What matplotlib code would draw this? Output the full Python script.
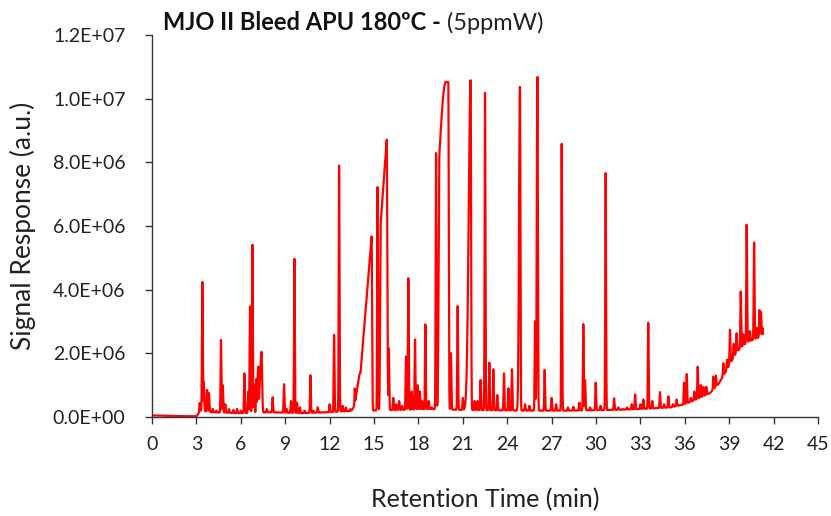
import numpy as np
import matplotlib
matplotlib.use("Agg")
import matplotlib.pyplot as plt

plt.rcParams['font.family'] = ['Lato', 'DejaVu Sans']

# Baseline drift of the run (min, a.u.)
base_rt = [0.0, 1.5, 3.0, 3.3, 4.0, 6.0, 8.0, 10.0, 12.0, 13.0, 16.5, 19.0, 21.0,
           25.0, 28.0, 31.0, 33.0, 35.0, 36.0, 37.0, 37.7, 38.3, 38.8, 39.5, 40.2, 41.3]
base_level = [0.05e6, 0.03e6, 0.02e6, 0.2e6, 0.15e6, 0.12e6, 0.15e6, 0.12e6, 0.15e6,
              0.18e6, 0.22e6, 0.25e6, 0.22e6, 0.2e6, 0.2e6, 0.22e6, 0.25e6, 0.3e6,
              0.4e6, 0.6e6, 0.75e6, 1.05e6, 1.45e6, 2.05e6, 2.35e6, 2.55e6]

# Peak table: retention time (min), apex response (a.u.)
peak_rt = [3.22, 3.40, 3.50, 3.72, 3.85, 4.10, 4.35, 4.66, 4.78, 4.95, 5.20, 5.50,
           5.75, 6.00, 6.24, 6.50, 6.62, 6.78, 6.90, 7.05, 7.18, 7.40, 7.75, 8.15,
           8.92, 9.10, 9.39, 9.62, 9.80, 10.00, 10.30, 10.70, 10.90, 11.20, 11.60,
           12.00, 12.30, 12.64, 12.88, 13.10, 13.40, 13.70, 14.84, 15.24, 15.86,
           16.00, 16.30, 16.50, 16.70, 16.90, 17.16, 17.32, 17.55, 17.77, 17.95,
           18.10, 18.25, 18.47, 18.70, 18.90, 19.19, 20.02, 20.20, 20.65, 21.00,
           21.53, 21.80, 22.00, 22.20, 22.50, 22.79, 23.06, 23.33, 23.78, 24.08,
           24.32, 24.86, 25.20, 25.50, 25.88, 26.04, 26.53, 27.00, 27.30, 27.68,
           28.10, 28.47, 28.87, 29.14, 29.26, 29.60, 29.98, 30.30, 30.65, 31.22,
           31.50, 31.80, 32.10, 32.41, 32.64, 33.00, 33.20, 33.53, 33.80, 34.32,
           34.60, 34.89, 35.20, 35.45, 35.95, 36.13, 36.40, 36.64, 36.87, 37.07,
           37.25, 37.45, 37.93, 38.10, 38.60, 38.85, 39.05, 39.30, 39.50, 39.78,
           39.95, 40.18, 40.40, 40.68, 40.85, 41.04, 41.15, 41.25]
peak_height = [0.44e6, 4.24e6, 1.1e6, 0.85e6, 0.75e6, 0.25e6, 0.2e6, 2.42e6, 1.0e6,
               0.4e6, 0.25e6, 0.22e6, 0.25e6, 0.2e6, 1.37e6, 0.8e6, 3.47e6, 5.41e6,
               1.0e6, 1.2e6, 1.58e6, 2.05e6, 0.25e6, 0.62e6, 1.03e6, 0.25e6, 0.5e6,
               4.97e6, 0.45e6, 0.3e6, 0.2e6, 1.31e6, 0.2e6, 0.3e6, 0.15e6, 0.4e6,
               2.58e6, 7.9e6, 0.35e6, 0.3e6, 0.25e6, 0.9e6, 5.67e6, 7.22e6, 8.71e6,
               2.16e6, 0.6e6, 0.4e6, 0.5e6, 0.35e6, 1.9e6, 4.36e6, 0.8e6, 2.44e6,
               1.0e6, 0.8e6, 0.5e6, 2.92e6, 0.5e6, 0.3e6, 8.31e6, 10.52e6, 2.0e6,
               3.49e6, 0.6e6, 10.58e6, 0.5e6, 0.5e6, 1.16e6, 10.18e6, 1.71e6, 1.5e6,
               0.69e6, 1.37e6, 0.9e6, 1.5e6, 10.37e6, 0.4e6, 0.35e6, 3.0e6, 10.68e6,
               1.48e6, 0.6e6, 0.4e6, 8.58e6, 0.3e6, 0.32e6, 0.45e6, 2.92e6, 1.16e6,
               0.3e6, 1.08e6, 0.35e6, 7.68e6, 0.59e6, 0.3e6, 0.25e6, 0.3e6, 0.4e6,
               0.71e6, 0.4e6, 0.55e6, 2.97e6, 0.5e6, 0.78e6, 0.4e6, 0.65e6, 0.4e6,
               0.55e6, 1.08e6, 1.35e6, 0.6e6, 0.8e6, 1.58e6, 1.0e6, 0.95e6, 0.95e6,
               1.27e6, 1.3e6, 1.69e6, 1.8e6, 2.74e6, 2.3e6, 2.63e6, 3.94e6, 2.6e6,
               6.04e6, 2.7e6, 5.48e6, 2.8e6, 3.36e6, 3.3e6, 2.8e6]

# Overloaded / fronting peaks:
# rt -> (front sigma, tail sigma, top length, top start fraction, ramp length, curved)
fronting = {
    7.18: (0.05, 0.03, 0.0, 1.0, 0.0, False),
    7.40: (0.10, 0.04, 0.0, 1.0, 0.0, False),
    14.84: (0.22, 0.03, 0.75, 0.22, 0.75, False),
    15.86: (0.04, 0.04, 0.40, 0.70, 0.40, False),
    20.02: (0.05, 0.03, 0.60, 0.78, 0.43, True),
    21.53: (0.13, 0.03, 0.0, 1.0, 0.0, False),
    24.86: (0.06, 0.03, 0.0, 1.0, 0.0, False),
    26.04: (0.04, 0.03, 0.0, 1.0, 0.0, False),
}
narrow = (0.025, 0.028, 0.0, 1.0, 0.0, False)

t = np.arange(0.0, 41.3, 0.004)
base = np.interp(t, base_rt, base_level)
top = np.zeros_like(t)
for rt, h in zip(peak_rt, peak_height):
    sl, sr, flat, f0, ramp, curved = fronting.get(rt, narrow)
    start = rt - flat
    shape = np.ones_like(t)
    if flat > 0:
        mid = (t >= start) & (t <= rt)
        u = np.clip((t[mid] - start) / ramp, 0, 1)
        if curved:
            u = np.sin(0.5 * np.pi * u)
        shape[mid] = f0 + (1 - f0) * u
    left = t < start
    shape[left] = f0 * np.exp(-0.5 * ((t[left] - start) / sl) ** 2)
    right = t > rt
    shape[right] = np.exp(-0.5 * ((t[right] - rt) / sr) ** 2)
    amp = h - np.interp(rt, base_rt, base_level)
    top = np.maximum(top, amp * shape)
signal = base + top

W, H = 831, 516
fig = plt.figure(figsize=(W / 100, H / 100), dpi=100)
ax = fig.add_axes([152 / W, 1 - 417 / H, (818 - 152) / W, (417 - 35) / H])

ax.plot(t, signal, color='#FF0000', lw=1.6, solid_joinstyle='round')

ax.set_xlim(0, 45)
ax.set_ylim(0, 1.2e7)
ax.set_xticks(np.arange(0, 46, 3))
yt = np.arange(0, 1.21e7, 2e6)
ax.set_yticks(yt)
ax.set_yticklabels([f'{v:.1E}' for v in yt])
for s in ['top', 'right']:
    ax.spines[s].set_visible(False)
for s in ['left', 'bottom']:
    ax.spines[s].set_color('#333333')
    ax.spines[s].set_linewidth(1.0)
ax.tick_params(axis='both', direction='out', length=5, width=1.0, color='#333333',
               labelsize=14, labelcolor='#222222')
ax.tick_params(axis='x', pad=9)
ax.tick_params(axis='y', pad=14)

ax.set_xlabel('Retention Time (min)', fontsize=18, color='#222222', labelpad=25)
ax.set_ylabel('Signal Response (a.u.)', fontsize=19, color='#222222', labelpad=12)

# Two-part title: bold sample name, regular concentration
renderer = fig.canvas.get_renderer()
t1 = fig.text(163 / W, 1 - 30 / H, 'MJO II Bleed APU 180ºC - ', fontsize=17,
              fontweight='bold', color='#111111', ha='left', va='baseline')
bb = t1.get_window_extent(renderer=renderer)
fig.text(bb.x1 / W, 1 - 30 / H, '(5ppmW)', fontsize=17, color='#222222',
         ha='left', va='baseline')

fig.savefig('out.png', dpi=100)
